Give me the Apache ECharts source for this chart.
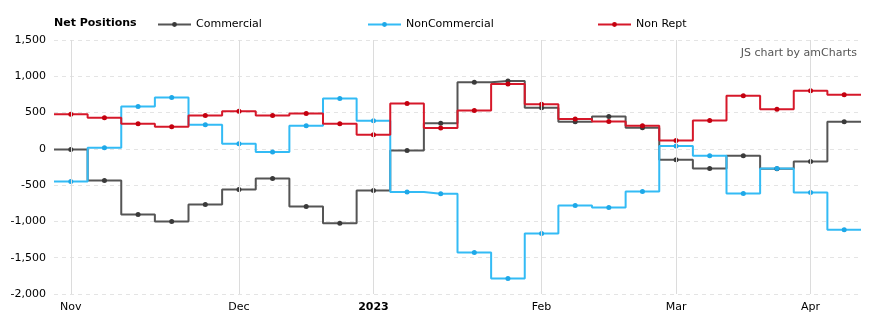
<!DOCTYPE html>
<html><head><meta charset="utf-8">
<script src="https://cdn.jsdelivr.net/npm/echarts@6/dist/echarts.min.js"></script>
<style>html,body{margin:0;padding:0;background:#fff}#c{width:875px;height:327px}</style>
</head><body><div id="c"></div>
<script>
const dates = ['2022-11-01','2022-11-08','2022-11-15','2022-11-22','2022-11-29','2022-12-06','2022-12-13','2022-12-20','2022-12-27','2023-01-03','2023-01-10','2023-01-17','2023-01-24','2023-01-31','2023-02-07','2023-02-14','2023-02-21','2023-02-28','2023-03-07','2023-03-14','2023-03-21','2023-03-28','2023-04-04','2023-04-11'];
const commercial = [-10,-436,-904,-1001,-767,-560,-408,-794,-1024,-573,-23,352,917,935,565,375,446,290,-151,-271,-95,-275,-174,372];
const nonCommercial = [-450,14,583,708,333,69,-42,319,694,389,-593,-620,-1427,-1786,-1166,-780,-808,-588,41,-95,-615,-271,-601,-1115];
const nonRept = [477,430,347,306,458,519,458,486,347,194,625,287,528,894,616,412,377,317,115,391,731,547,800,745];
const tickIndex = [0,5,9,14,18,22];
const tickLabels = ['Nov','Dec','2023','Feb','Mar','Apr'];
const boldLabels = ['2023'];

const FONT = 'DejaVu Sans';

function stepData(vals){
  const d = [{value:[-0.5, vals[0]], symbol:'none'}];
  vals.forEach((v,i)=>d.push({value:[i, v], name:dates[i]}));
  d.push({value:[vals.length-0.5, vals[vals.length-1]], symbol:'none'});
  return d;
}

function lineSeries(name, vals, color, dot){
  return {
    name, type:'line', step:'middle', data: stepData(vals),
    symbol:'circle', symbolSize:5, showAllSymbol:true,
    lineStyle:{color, width:2},
    itemStyle:{color: dot},
    emphasis:{disabled:true},
    z:3
  };
}

const chart = echarts.init(document.getElementById('c'), null, {renderer:'canvas'});
const legendBase = {
  orient:'horizontal', top:19, padding:0, itemWidth:33, itemHeight:6,
  textStyle:{fontFamily:FONT, fontSize:11, color:'#000'}, selectedMode:false
};
chart.setOption({
  animation:false,
  title:{text:'Net Positions', left:54, top:18, padding:0,
    textStyle:{fontFamily:FONT, fontSize:11, fontWeight:'bold', color:'#000'}},
  legend:[
    Object.assign({}, legendBase, {data:['Commercial'], left:157}),
    Object.assign({}, legendBase, {data:['NonCommercial'], left:367}),
    Object.assign({}, legendBase, {data:['Non Rept'], left:597})
  ],
  graphic:[{type:'text', right:18, top:48,
    style:{text:'JS chart by amCharts', fill:'#555', font:'11px "DejaVu Sans"'}}],
  grid:{left:54, right:14, top:40, bottom:33},
  xAxis:{
    type:'value', min:-0.5, max:23.5, interval:0.5,
    axisLine:{show:false}, axisTick:{show:false}, splitLine:{show:false},
    axisLabel:{
      margin:8, color:'#000', fontFamily:FONT, fontSize:11,
      formatter:v=>{
        if(!Number.isInteger(v)) return '';
        const k = tickIndex.indexOf(v);
        if(k<0) return '';
        const t = tickLabels[k];
        return boldLabels.includes(t) ? '{b|'+t+'}' : t;
      },
      rich:{b:{fontWeight:'bold', fontFamily:FONT, fontSize:11, color:'#000'}}
    }
  },
  yAxis:{
    type:'value', min:-2000, max:1500, interval:500,
    axisLine:{show:false}, axisTick:{show:false},
    axisLabel:{margin:8, color:'#000', fontFamily:FONT, fontSize:11,
      formatter:v=>v.toLocaleString('en-US')},
    splitLine:{lineStyle:{color:'#e4e4e4', type:[4,4], width:1}}
  },
  series:[
    {type:'line', data:[], z:1, silent:true,
      markLine:{silent:true, symbol:['none','none'], label:{show:false},
        lineStyle:{color:'#dcdcdc', type:'solid', width:1},
        emphasis:{disabled:true},
        data: tickIndex.map(i=>({xAxis:i}))}},
    lineSeries('Commercial', commercial, '#555555', '#3a3a3a'),
    lineSeries('NonCommercial', nonCommercial, '#33bbf5', '#1ea8e8'),
    lineSeries('Non Rept', nonRept, '#d6182a', '#c4000f')
  ]
});
</script></body></html>
